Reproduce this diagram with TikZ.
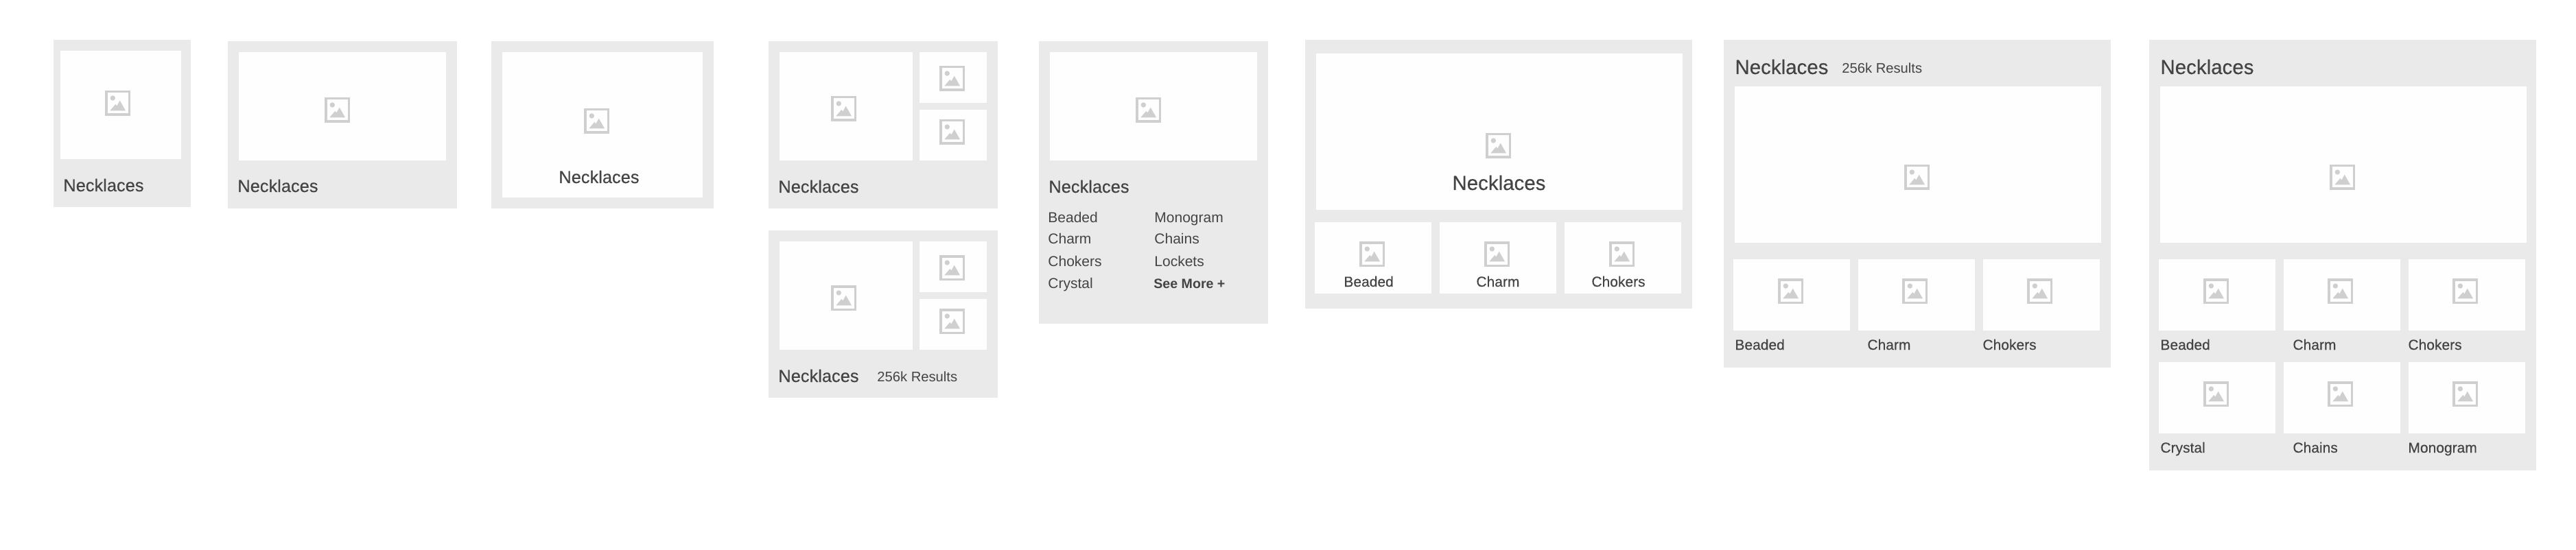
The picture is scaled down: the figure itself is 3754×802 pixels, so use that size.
\documentclass[tikz,border=0pt]{standalone}
\usepackage{fontspec}
\setmainfont{Liberation Sans}
\newfontfamily\mediumfont[FakeBold=0.35]{Liberation Sans}
\definecolor{panelgray}{HTML}{EAEAEA}
\definecolor{thumbwhite}{HTML}{FEFEFE}
\definecolor{icongray}{HTML}{CFCFCF}
\definecolor{inkgray}{HTML}{444444}
\tikzset{
  panel/.style={fill=panelgray},
  thumb/.style={fill=thumbwhite},
  txt/.style={inner sep=0pt,anchor=base west,text=inkgray},
  title/.style={txt,font=\mediumfont\fontsize{12.7}{14}\selectfont},
  bigtitle/.style={txt,font=\mediumfont\fontsize{14.75}{17}\selectfont},
  sub/.style={txt,font=\fontsize{10.1}{12}\selectfont},
  item/.style={txt,font=\fontsize{10.5}{12}\selectfont},
  catlabel/.style={txt,font=\mediumfont\fontsize{10.5}{12}\selectfont},
  imgicon/.pic={
    \draw[icongray,line width=1.75pt] (1.75,1.75) rectangle (35.25,35.25);
    \fill[icongray] (11.3,11) circle (3.7);
    \fill[icongray] (7.3,29.3) -- (15.3,20) -- (17.3,22.5) -- (21.7,14.7) -- (30,29.3) -- cycle;
  }
}
\begin{document}
\begin{tikzpicture}[x=0.5pt,y=-0.5pt]
\useasboundingbox (0,0) rectangle (3754,802);
% gray cards
\foreach \xa/\ya/\xb/\yb in {78/58/278/302,332/60/666/304,716/60/1040/304,1120/60/1454/304,1120/336/1454/580,1514/60/1848/472,1902/58/2466/450,2512/58/3076/536,3132/58/3696/686}
  {\fill[panel] (\xa,\ya) rectangle (\xb,\yb);}
% white image areas
\foreach \xa/\ya/\xb/\yb in {88/74/264/232,348/76/650/234,732/76/1024/288,1136/76/1330/234,1340/76/1438/150,1340/160/1438/234,1136/352/1330/510,1340/352/1438/426,1340/436/1438/510,1530/76/1832/234,1918/78/2452/306,1916/324/2086/428,2098/324/2268/428,2280/324/2450/428,2528/126/3062/354,2526/378/2696/482,2708/378/2878/482,2890/378/3060/482,3148/126/3682/354,3146/378/3316/482,3328/378/3498/482,3510/378/3680/482,3146/528/3316/632,3328/528/3498/632,3510/528/3680/632}
  {\fill[thumb] (\xa,\ya) rectangle (\xb,\yb);}
% placeholder icons
\foreach \x/\y in {153/132,473/142,851/158,1211/140,1369/96,1369/174,1211/416,1369/372,1369/450,1655/142,2165/194,1981/352,2163/352,2345/352,2775/240,2591/406,2772/406,2954/406,3395/240,3211/406,3392/406,3574/406,3211/556,3392/556,3574/556}
  {\pic at (\x,\y) {imgicon};}
% titles
\foreach \x/\y [count=\n] in {92/279,346/280,814/267,1134/281,1134/557,1528/281}
  {\node[title] (title\n) at (\x,\y) {Necklaces};}
\foreach \x/\y [count=\n] in {2116/277,2528/108,3148/108}
  {\node[bigtitle] (bigtitle\n) at (\x,\y) {Necklaces};}
\node[sub] (resultsa) at (1278,556) {256k Results};
\node[sub] (resultsb) at (2684,107) {256k Results};
% link list
\foreach \x/\y/\t [count=\n] in {1527/324/Beaded,1527/356/Charm,1527/388/Chokers,1527/420/Crystal,1682/324/Monogram,1682/356/Chains,1682/388/Lockets}
  {\node[item] (link\n) at (\x,\y) {\t};}
\node[item,font=\fontsize{9.8}{12}\selectfont\bfseries] (seemore) at (1681,420) {See More +};
% labels under the small images
\foreach \x/\y/\t [count=\n] in {1958/418/Beaded,2151/418/Charm,2319/418/Chokers,2528/510/Beaded,2721/510/Charm,2889/510/Chokers,3148/510/Beaded,3341/510/Charm,3509/510/Chokers,3148/660/Crystal,3341/660/Chains,3509/660/Monogram}
  {\node[catlabel] (cat\n) at (\x,\y) {\t};}
\end{tikzpicture}
\end{document}
